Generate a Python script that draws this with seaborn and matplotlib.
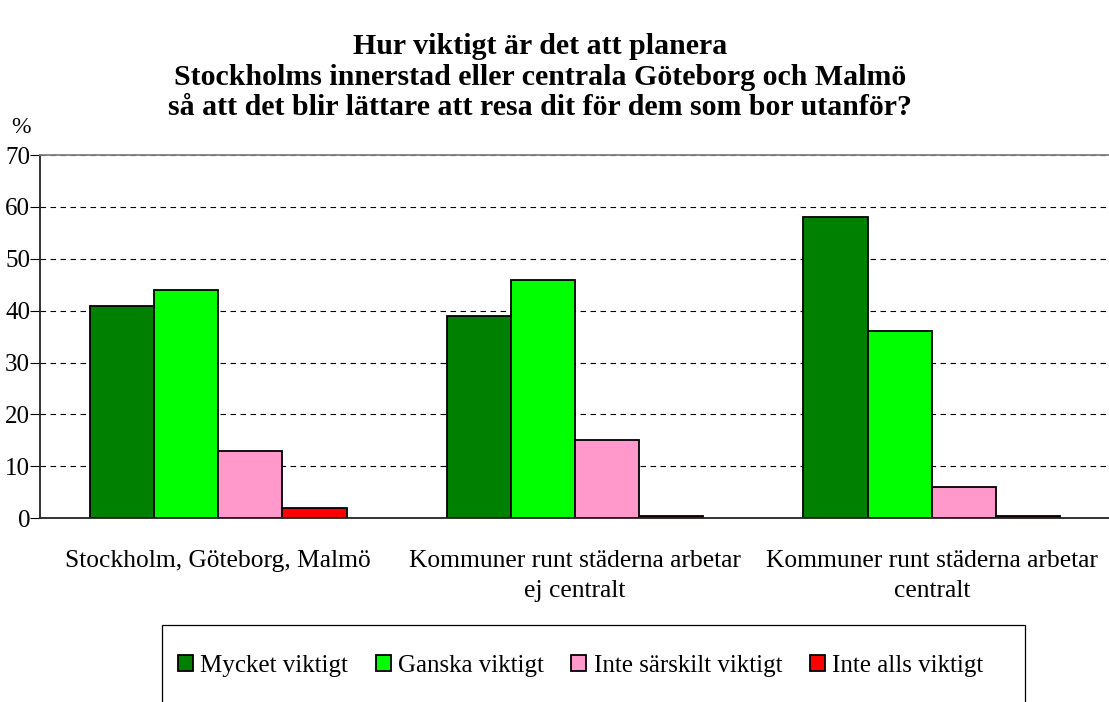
"""
Reconstruction of a grouped bar chart (Swedish survey)
"""

import numpy as np
import pandas as pd
import matplotlib
matplotlib.use("Agg")
import matplotlib.pyplot as plt
import seaborn as sns
from matplotlib.patches import Rectangle

# Data

groups = [
    "Stockholm, Göteborg, Malmö",
    "Kommuner runt städerna arbetar\nej centralt",
    "Kommuner runt städerna arbetar\ncentralt",
]
answers = ["Mycket viktigt", "Ganska viktigt", "Inte särskilt viktigt", "Inte alls viktigt"]
mycket = [41, 39, 58]
ganska = [44, 46, 36]
inte_sarskilt = [13, 15, 6]
inte_alls = [2, 0.4, 0.4]
colors = ["#008000", "#00ff00", "#ff99cc", "#ff0000"]
yticks = [0, 10, 20, 30, 40, 50, 60, 70]

title = ("Hur viktigt är det att planera\n"
         "Stockholms innerstad eller centrala Göteborg och Malmö\n"
         "så att det blir lättare att resa dit för dem som bor utanför?")

rows = []
for series, vals in zip(answers, [mycket, ganska, inte_sarskilt, inte_alls]):
    for g, v in zip(groups, vals):
        rows.append({"grupp": g, "svar": series, "procent": v})
df = pd.DataFrame(rows)

# Plot

sns.set_style("white")
plt.rcParams["font.family"] = ["Liberation Serif", "DejaVu Serif"]
plt.rcParams["text.color"] = "black"
plt.rcParams["xtick.color"] = "black"
plt.rcParams["ytick.color"] = "black"

fig = plt.figure(figsize=(11.09, 7.02), dpi=100)
ax = fig.add_axes([0.036, 0.262, 0.965, 0.517])

sns.barplot(
    data=df, x="grupp", y="procent", hue="svar",
    order=groups, hue_order=answers, palette=colors,
    width=0.72, edgecolor="black", linewidth=1.3,
    saturation=1, ax=ax, legend=True,
)

ax.set_xlim(-0.5, 2.5)
ax.set_ylim(0, 70)
ax.set_yticks(yticks)
ax.set_yticklabels([str(t) for t in yticks], fontsize=18)
ax.yaxis.grid(True, linestyle=(0, (5, 4)), color="black", linewidth=0.8)
ax.set_axisbelow(True)

ax.set_xticks(range(len(groups)))
ax.set_xticklabels(groups, fontsize=18.4, linespacing=1.45)
ax.tick_params(axis="x", which="major", length=0, pad=23)
ax.set_xticks([-0.5, 0.5, 1.5, 2.5], minor=True)
ax.tick_params(axis="x", which="minor", length=7, direction="out", color="black")
ax.tick_params(axis="y", length=7, direction="out", left=True, color="black", pad=0)
ax.set_xlabel("")
ax.set_ylabel("")

for side in ["left", "bottom"]:
    ax.spines[side].set_color("#222222")
    ax.spines[side].set_linewidth(1.3)
for side in ["top", "right"]:
    ax.spines[side].set_color("#808080")
    ax.spines[side].set_linewidth(1.3)

fig.text(0.019, 0.818, "%", fontsize=17, ha="center", va="center")
fig.text(0.487, 0.89, title, fontsize=21.5, fontweight="bold",
         ha="center", va="center", linespacing=1.16, multialignment="center")

# Legend with a wide box like the original
handles, labels = ax.get_legend_handles_labels()
ax.get_legend().remove()
fig.legend(
    handles, labels, loc="center left", bbox_to_anchor=(0.149, 0.051),
    ncol=4, fontsize=18, frameon=False, borderpad=0,
    handlelength=0.6, handleheight=0.6, handletextpad=0.3, columnspacing=1.1,
)
fig.patches.append(Rectangle(
    (162 / 1109, -0.02), (1025 - 162) / 1109, (702 - 625) / 702 + 0.02,
    transform=fig.transFigure, fill=False, edgecolor="black", linewidth=0.9,
))

fig.savefig("out.png", dpi=100)
plt.close()
